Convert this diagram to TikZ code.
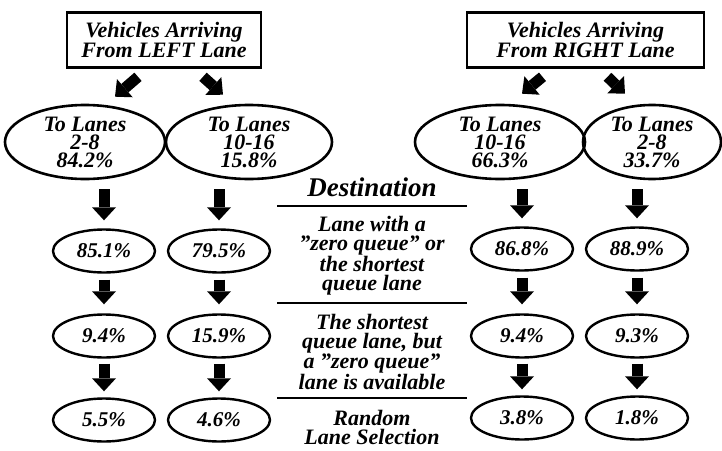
\documentclass[tikz,border=0pt]{standalone}
\usepackage{fontspec}
\setmainfont{Liberation Serif}[Ligatures=ResetAll]
\usetikzlibrary{shapes.geometric,arrows.meta}
\newcommand{\fsz}[2]{\fontsize{#1}{#2}\selectfont\bfseries\itshape}
\tikzset{
  tbox/.style={draw, line width=2.6pt, minimum height=55pt, inner sep=0pt, align=center, font=\fsz{22}{19}},
  bigell/.style={ellipse, draw, line width=2.6pt, minimum height=74pt, inner sep=0pt, align=center, font=\fsz{22}{18}},
  smell/.style={ellipse, draw, line width=2.4pt, minimum width=102pt, minimum height=43pt, inner sep=0pt, font=\fsz{21}{18}},
  midtext/.style={align=center, inner sep=0pt, font=\fsz{22}{19}},
  fat/.style={line width=11pt, -{Triangle[width=24pt,length=13pt,line width=0pt]}},
  rule/.style={line width=1.8pt}
}
\begin{document}
\begin{tikzpicture}[x=1pt,y=-1pt]
\useasboundingbox (0,0) rectangle (722,450);
% source boxes
\node[tbox, minimum width=194pt] (lb) at (164,40) {Vehicles Arriving\\From LEFT Lane};
\node[tbox, minimum width=237pt] (rb) at (585.5,40) {Vehicles Arriving\\From RIGHT Lane};
% lane group ellipses
\node[bigell, minimum width=160pt] (e1) at (85,142) {To Lanes\\2-8\\84.2\%};
\node[bigell, minimum width=166pt] (e2) at (249,142) {To Lanes\\10-16\\15.8\%};
\node[bigell, minimum width=170pt] (e3) at (500,142) {To Lanes\\10-16\\66.3\%};
\node[bigell, minimum width=138pt] (e4) at (652,142) {To Lanes\\2-8\\33.7\%};
% percentage ellipses
\node[smell] (a1) at (104,251) {85.1\%};
\node[smell] (a2) at (104,336) {9.4\%};
\node[smell] (a3) at (104,420) {5.5\%};
\node[smell] (b1) at (219,251) {79.5\%};
\node[smell] (b2) at (219,336) {15.9\%};
\node[smell] (b3) at (219,420) {4.6\%};
\node[smell] (c1) at (522,249) {86.8\%};
\node[smell] (c2) at (522,336) {9.4\%};
\node[smell] (c3) at (522,418) {3.8\%};
\node[smell] (d1) at (637,249) {88.9\%};
\node[smell] (d2) at (637,336) {9.3\%};
\node[smell] (d3) at (637,418) {1.8\%};
% middle legend
\node[midtext, font=\fsz{27}{28}] (dest) at (372,187) {Destination};
\node[midtext] (t1) at (372,256) {Lane with a\\"zero queue" or\\the shortest\\queue lane};
\node[midtext] (t2) at (372,352) {The shortest\\queue lane, but\\a "zero queue"\\lane is available};
\node[midtext] (t3) at (372,427) {Random\\Lane Selection};
\draw[rule] (277,206) -- (467,206);
\draw[rule] (277,303) -- (467,303);
\draw[rule] (277,398) -- (467,398);
% diagonal arrows
\draw[fat] ([xshift=-26pt,yshift=-8pt]lb.south) -- ([xshift=30pt,yshift=7pt]e1.north);
\draw[fat] ([xshift=39pt,yshift=-8pt]lb.south) -- ([xshift=-26pt,yshift=9pt]e2.north);
\draw[fat] ([xshift=-43pt,yshift=-8pt]rb.south) -- ([xshift=22pt,yshift=10pt]e3.north);
\draw[fat] ([xshift=22pt,yshift=-8pt]rb.south) -- ([xshift=-27pt,yshift=10pt]e4.north);
% vertical arrows
\foreach \top/\p/\q/\r in {e1/a1/a2/a3, e2/b1/b2/b3, e3/c1/c2/c3, e4/d1/d2/d3}{
  \draw[fat, shorten <=9pt, shorten >=8pt] (\p |- \top.south) -- (\p.north);
  \draw[fat, shorten <=6pt, shorten >=9pt] (\p.south) -- (\q.north);
  \draw[fat, shorten <=5pt, shorten >=6pt] (\q.south) -- (\r.north);
}
\end{tikzpicture}
\end{document}
